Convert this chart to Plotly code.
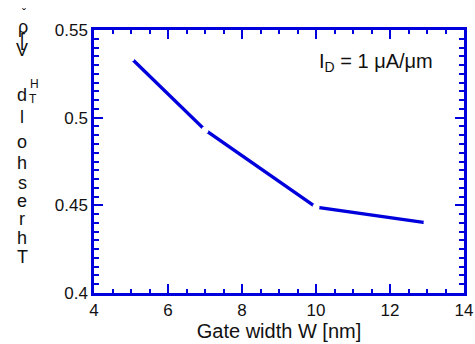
import plotly.graph_objects as go

gate_width = [5, 7, 10, 13]
threshold = [0.534, 0.493, 0.449, 0.440]

x_ticks = [4, 6, 8, 10, 12, 14]
y_ticks = [0.4, 0.45, 0.5, 0.55]
y_tick_labels = ["0.4", "0.45", "0.5", "0.55"]

BLUE = "#0000DD"
FONT = "Liberation Sans, Arial, sans-serif"

fig = go.Figure()
fig.add_trace(go.Scatter(
    x=gate_width, y=threshold, mode="lines+markers",
    line=dict(color=BLUE, width=3.3),
    marker=dict(color="white", size=7, line=dict(width=0)),
    showlegend=False, hoverinfo="skip",
))

axis_common = dict(
    showline=True, linecolor=BLUE, linewidth=2.5, mirror="allticks",
    ticks="inside", tickcolor=BLUE, tickwidth=2, ticklen=9,
    showgrid=False, zeroline=False,
    tickfont=dict(family=FONT, size=17, color="#111"),
)

fig.update_xaxes(
    range=[4, 14], tickvals=x_ticks,
    minor=dict(dtick=0.5, ticks="inside", ticklen=4, tickwidth=2, tickcolor=BLUE, showgrid=False),
    title=dict(text="Gate width W [nm]", font=dict(family=FONT, size=20, color="#111"), standoff=4),
    automargin=False,
    **axis_common,
)
fig.update_yaxes(
    range=[0.4, 0.55], tickvals=y_ticks, ticktext=y_tick_labels,
    minor=dict(dtick=0.005, ticks="inside", ticklen=5, tickwidth=2, tickcolor=BLUE, showgrid=False),
    automargin=False,
    **axis_common,
)

# Plot area in pixels: x 94..464, y 30..293
L, R, T, B = 94, 464, 30, 293
def px(xp):
    return (xp - L) / (R - L)
def py(yp):
    return (B - yp) / (B - T)

annotations = []
# stacked vertical y-axis label (characters as they appear, top to bottom)
label_chars = [
    ("ˇ", 24, 14, 12),
    ("ρ", 23, 27, 18),
    ("[", 22, 40, 18),
    ("V", 22, 50, 18),
    ("d", 22, 95, 18),
    ("l", 22, 117, 18),
    ("o", 22, 142, 18),
    ("h", 22, 163, 18),
    ("s", 22, 183, 18),
    ("e", 22, 201, 18),
    ("r", 22, 219, 18),
    ("h", 22, 238, 18),
    ("T", 22, 257, 18),
    ("H", 34, 84, 12),
    ("T", 33, 99, 12),
]
for ch, xx, yy, sz in label_chars:
    annotations.append(dict(
        text=ch, x=px(xx), y=py(yy), xref="paper", yref="paper",
        xanchor="center", yanchor="middle", showarrow=False,
        font=dict(family=FONT, size=sz, color="#111"),
    ))

annotations.append(dict(
    text="I<sub>D</sub> = 1 μA/μm", x=px(317), y=py(62), xref="paper", yref="paper",
    xanchor="left", yanchor="middle", showarrow=False,
    font=dict(family=FONT, size=20, color="#111"),
))

fig.update_layout(
    width=475, height=344,
    margin=dict(l=L, r=475 - R, t=T, b=344 - B),
    paper_bgcolor="white", plot_bgcolor="white",
    annotations=annotations,
)

fig.write_html(
    "out.html",
    config={"displayModeBar": False},
    post_script="document.body.style.margin='0px';document.body.style.overflow='hidden';",
)
